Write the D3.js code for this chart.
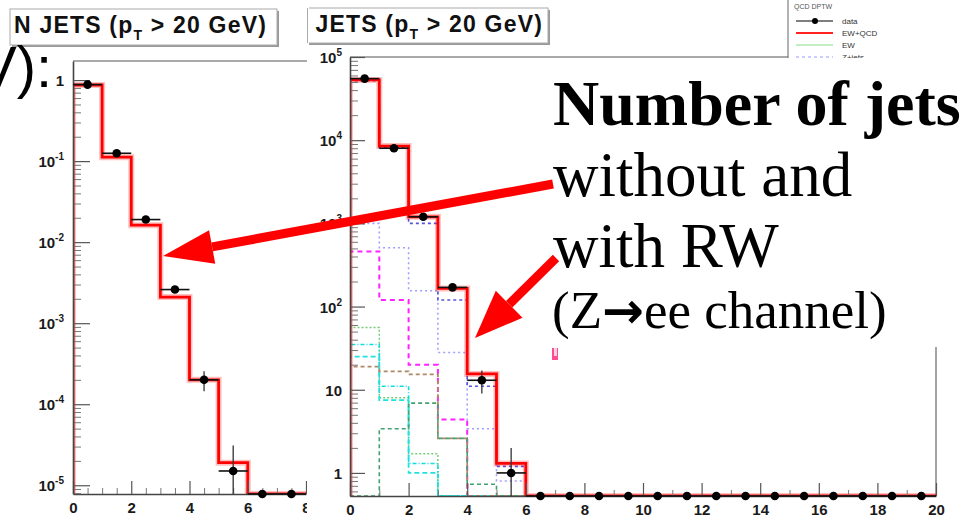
<!DOCTYPE html>
<html>
<head>
<meta charset="utf-8">
<script src="https://cdn.jsdelivr.net/npm/d3@7"></script>
<style>
  body { margin: 0; background: #fff; }
  svg { display: block; }
</style>
</head>
<body>
<div id="chart"></div>
<script>
// ---- values ----
// left: normalised N jets, one bin per jet multiplicity
var leftMC   = [0.87, 0.112, 0.0162, 0.0021, 0.0002, 0.000019, 0, 0];
var leftData = [0.88, 0.125, 0.019, 0.0026, 0.0002, 0.000015, 0, 0];
var leftErr  = [0, 0, 0, 0.0001, 0.000055, 0.000016, 0, 0];
var leftXTicks = [0, 2, 4, 6, 8];
var leftYTicks = [1, 1e-1, 1e-2, 1e-3, 1e-4, 1e-5];
var leftYLabels = [["1", ""], ["10", "-1"], ["10", "-2"], ["10", "-3"], ["10", "-4"], ["10", "-5"]];

// right: events per jet multiplicity (0..19)
var rightMC   = [53000, 8500, 1200, 165, 15.5, 1.3, 0, 0, 0, 0, 0, 0, 0, 0, 0, 0, 0, 0, 0, 0];
var rightData = [55000, 8000, 1200, 170, 13, 1.0, 0, 0, 0, 0, 0, 0, 0, 0, 0, 0, 0, 0, 0, 0];
var rightErr  = [230, 90, 35, 13, 4, 1.0, 0, 0, 0, 0, 0, 0, 0, 0, 0, 0, 0, 0, 0, 0];
var rightXTicks = [0, 2, 4, 6, 8, 10, 12, 14, 16, 18, 20];
var rightYTicks = [1e5, 1e4, 1e3, 1e2, 10, 1];
var rightYLabels = [["10", "5"], ["10", "4"], ["10", "3"], ["10", "2"], ["10", ""], ["1", ""]];

// background components stacked under the total (first six bins)
var compZjets  = [52000, 8200, 1000, 120, 11, 1.2];
var compLav    = [1000, 510, 155, 28, 3.4, 0.8];
var compMag    = [460, 120, 20, 4.4, 0, 0];
var compLGreen = [56, 8, 1.7, 0, 0, 0];
var compCyanA  = [35, 11, 1.3, 0, 0, 0];
var compCyanB  = [25, 7.5, 1.0, 0, 0, 0];
var compBrown  = [19, 16.6, 15.3, 2.6, 0, 0];
var compDGreen = [0, 3.4, 6.9, 2.6, 0.73, 0];

var legendLabels = ["data", "EW+QCD", "EW", "Z+jets"];

var width = 961, height = 527;

var svg = d3.select("#chart").append("svg")
    .attr("width", width).attr("height", height)
    .style("font-family", "'Liberation Sans', Arial, sans-serif");

svg.append("rect").attr("width", width).attr("height", height).attr("fill", "#fff");

var defs = svg.append("defs");
defs.append("clipPath").attr("id", "clipLeft")
    .append("rect").attr("x", 0).attr("y", 0).attr("width", 307).attr("height", height);
defs.append("clipPath").attr("id", "clipLeftPlot")
    .append("rect").attr("x", 73).attr("y", 61).attr("width", 234).attr("height", 434);
defs.append("clipPath").attr("id", "clipRightPlot")
    .append("rect").attr("x", 350).attr("y", 57).attr("width", 587).attr("height", 440);
defs.append("clipPath").attr("id", "clipRightTitle")
    .append("rect").attr("x", 309).attr("y", 0).attr("width", 260).attr("height", 60);

function stepPath(vals, x, y, yb) {
    var p = d3.path();
    p.moveTo(x(0), yb);
    vals.forEach(function (v, i) {
        var yy = v > 0 ? Math.min(y(v), yb) : yb;
        p.lineTo(x(i), yy);
        p.lineTo(x(i + 1), yy);
    });
    p.lineTo(x(vals.length), yb);
    return p.toString();
}

function drawData(g, vals, errs, x, y, yb) {
    vals.forEach(function (v, i) {
        var cy = v > 0 ? Math.min(y(v), yb) : yb;
        var cx = x(i + 0.5);
        g.append("line").attr("x1", x(i)).attr("x2", x(i + 1)).attr("y1", cy).attr("y2", cy)
            .attr("stroke", "#111").attr("stroke-width", 1.6);
        if (errs[i] > 0) {
            var lo = v - errs[i] > 0 ? Math.min(y(v - errs[i]), yb) : yb;
            g.append("line").attr("x1", cx).attr("x2", cx)
                .attr("y1", y(v + errs[i])).attr("y2", lo)
                .attr("stroke", "#333").attr("stroke-width", 1.3);
        }
        g.append("circle").attr("cx", cx).attr("cy", cy).attr("r", 4.3).attr("fill", "#000");
    });
}

function drawYAxis(g, y, x0, majors, labels, bigLen, smallLen, labelX) {
    var minors = y.ticks().filter(function (t) {
        return majors.indexOf(t) < 0;
    });
    g.append("g").attr("transform", "translate(" + x0 + ",0)")
        .call(d3.axisRight(y).tickValues(minors).tickSize(smallLen).tickSizeOuter(0).tickFormat(""))
        .call(function (a) { a.select(".domain").remove(); a.selectAll("line").attr("stroke", "#777"); });
    g.append("g").attr("transform", "translate(" + x0 + ",0)")
        .call(d3.axisRight(y).tickValues(majors).tickSize(bigLen).tickSizeOuter(0).tickFormat(""))
        .call(function (a) {
            a.select(".domain").attr("stroke", "#444").attr("stroke-width", 1.6);
            a.selectAll("line").attr("stroke", "#555").attr("stroke-width", 1.2);
        });
    majors.forEach(function (t, i) {
        var txt = g.append("text").attr("x", labelX).attr("y", y(t) + 6)
            .attr("text-anchor", "end").attr("font-weight", "bold")
            .attr("font-size", 15).attr("fill", "#1a1a1a");
        txt.append("tspan").text(labels[i][0]);
        if (labels[i][1]) {
            txt.append("tspan").attr("dy", -7).attr("font-size", 10).text(labels[i][1]);
        }
    });
}

function drawXAxis(g, x, yb, majors, minors) {
    g.append("g").attr("transform", "translate(0," + yb + ")")
        .call(d3.axisTop(x).tickValues(minors).tickSize(6).tickSizeOuter(0).tickFormat(""))
        .call(function (a) { a.select(".domain").remove(); a.selectAll("line").attr("stroke", "#777"); });
    g.append("g").attr("transform", "translate(0," + yb + ")")
        .call(d3.axisTop(x).tickValues(majors).tickSize(13).tickSizeOuter(0).tickFormat(""))
        .call(function (a) {
            a.select(".domain").attr("stroke", "#444").attr("stroke-width", 1.6);
            a.selectAll("line").attr("stroke", "#555").attr("stroke-width", 1.2);
        });
    g.append("g").attr("transform", "translate(0," + yb + ")")
        .call(d3.axisBottom(x).tickValues(majors).tickSize(0).tickPadding(8).tickFormat(d3.format("d")))
        .call(function (a) {
            a.select(".domain").remove();
            a.selectAll("text").attr("font-family", "'Liberation Sans', Arial, sans-serif")
                .attr("font-weight", "bold").attr("font-size", 15).attr("fill", "#1a1a1a");
        });
}

function titleBox(g, bx, by, bw, bh, tx) {
    g.append("rect").attr("x", bx + 2).attr("y", by + 2).attr("width", bw).attr("height", bh).attr("fill", "#999");
    g.append("rect").attr("x", bx).attr("y", by).attr("width", bw).attr("height", bh)
        .attr("fill", "#fff").attr("stroke", "#aaa").attr("stroke-width", 1);
    var t = g.append("text").attr("x", tx).attr("y", by + 24)
        .attr("font-weight", "bold").attr("font-size", 23).attr("letter-spacing", 1.2)
        .attr("fill", "#111");
    t.append("tspan").text("N JETS (p");
    t.append("tspan").attr("dy", 7).attr("font-size", 14).text("T");
    t.append("tspan").attr("dy", -7).text(" > 20 GeV)");
    return t;
}

// ================= left panel =================
var L = svg.append("g").attr("clip-path", "url(#clipLeft)");
var xL = d3.scaleLinear().domain([0, 8]).range([73, 306]);
var yL = d3.scaleLog().domain([7.8e-6, 1.72]).range([494, 61]);
var ybL = 494;

titleBox(L, 10, 9, 267, 36, 14);

L.append("line").attr("x1", 73).attr("x2", 307).attr("y1", 61).attr("y2", 61)
    .attr("stroke", "#555").attr("stroke-width", 1.2);

var Lp = L.append("g").attr("clip-path", "url(#clipLeftPlot)");
Lp.append("path").attr("d", stepPath(leftMC, xL, yL, ybL))
    .attr("fill", "none").attr("stroke", "rgba(255,0,0,0.25)").attr("stroke-width", 6);
Lp.append("path").attr("d", stepPath(leftMC, xL, yL, ybL))
    .attr("fill", "none").attr("stroke", "#ff0000").attr("stroke-width", 2.8);

drawXAxis(L, xL, ybL, leftXTicks, [0.5, 1, 1.5, 2.5, 3, 3.5, 4.5, 5, 5.5, 6.5, 7, 7.5]);
drawYAxis(L, yL, 73, leftYTicks, leftYLabels, 17, 8, 64);
drawData(L, leftData, leftErr, xL, yL, ybL);

// ================= right panel =================
var R = svg.append("g");
var xR = d3.scaleLinear().domain([0, 20]).range([350, 936]);
var yR = d3.scaleLog().domain([0.528, 1e5]).range([496, 57]);
var ybR = 496;

var Rt = R.append("g").attr("clip-path", "url(#clipRightTitle)");
titleBox(Rt, 283, 8, 265, 35, 290);
R.append("line").attr("x1", 307.5).attr("x2", 307.5).attr("y1", 8).attr("y2", 43)
    .attr("stroke", "#aaa");

R.append("line").attr("x1", 350).attr("x2", 788).attr("y1", 57).attr("y2", 57)
    .attr("stroke", "#555").attr("stroke-width", 1.2);
R.append("line").attr("x1", 936).attr("x2", 936).attr("y1", 57).attr("y2", 496)
    .attr("stroke", "#666").attr("stroke-width", 1.2);

var Rp = R.append("g").attr("clip-path", "url(#clipRightPlot)");
var comps = [
    { v: compLav,    c: "#a0a0ff", d: "2,3", w: 1.6 },
    { v: compMag,    c: "#ff22ff", d: "5,4", w: 2 },
    { v: compLGreen, c: "#77cc77", d: "2,2", w: 1.5 },
    { v: compCyanA,  c: "#11dddd", d: "4,2,1,2", w: 1.6 },
    { v: compCyanB,  c: "#22e0e0", d: "5,3", w: 1.8 },
    { v: compBrown,  c: "#b08866", d: "4,3", w: 1.8 },
    { v: compDGreen, c: "#44a070", d: "4,3", w: 1.6 },
    { v: compZjets,  c: "#5555dd", d: "3,3", w: 1.6 }
];
comps.forEach(function (s) {
    Rp.append("path").attr("d", stepPath(s.v, xR, yR, ybR))
        .attr("fill", "none").attr("stroke", s.c).attr("stroke-width", s.w)
        .attr("stroke-dasharray", s.d);
});
Rp.append("path").attr("d", stepPath(rightMC, xR, yR, ybR))
    .attr("fill", "none").attr("stroke", "rgba(255,0,0,0.25)").attr("stroke-width", 6);
Rp.append("path").attr("d", stepPath(rightMC, xR, yR, ybR))
    .attr("fill", "none").attr("stroke", "#ff0000").attr("stroke-width", 2.8);

drawXAxis(R, xR, ybR, rightXTicks, [1, 3, 5, 7, 9, 11, 13, 15, 17, 19]);
drawYAxis(R, yR, 350, rightYTicks, rightYLabels, 15, 8, 342);
drawData(R, rightData, rightErr, xR, yR, ybR);

// legend (top right, mostly hidden)
var lg = svg.append("g");
lg.append("rect").attr("x", 788).attr("y", -2).attr("width", 180).attr("height", 62)
    .attr("fill", "#fff").attr("stroke", "#666").attr("stroke-width", 1);
lg.append("text").attr("x", 794).attr("y", 9).attr("font-size", 7).attr("fill", "#555").text("QCD DPTW");
var lgColors = ["#000", "#ff2222", "#88dd88", "#9999ff"];
var lgDash = [null, null, null, "3,3"];
legendLabels.forEach(function (name, i) {
    var yy = 21 + i * 12;
    lg.append("line").attr("x1", 796).attr("x2", 833).attr("y1", yy).attr("y2", yy)
        .attr("stroke", lgColors[i]).attr("stroke-width", i == 1 ? 2 : 1.2)
        .attr("stroke-dasharray", lgDash[i]);
    if (i == 0) lg.append("circle").attr("cx", 815).attr("cy", yy).attr("r", 3).attr("fill", "#000");
    lg.append("text").attr("x", 842).attr("y", yy + 3).attr("font-size", 8).attr("fill", "#333").text(name);
});

// ================= overlay annotation =================
svg.append("rect").attr("x", 548).attr("y", 58).attr("width", 413).attr("height", 289).attr("fill", "#fff");
svg.append("rect").attr("x", 552).attr("y", 348).attr("width", 6).attr("height", 12).attr("fill", "#ff4d94");
svg.append("rect").attr("x", 554).attr("y", 348).attr("width", 3).attr("height", 8).attr("fill", "#ffd0e0");

svg.append("text").attr("x", -22).attr("y", 87)
    .attr("font-size", 58).attr("fill", "#000").text("V):");

var serif = "'Liberation Serif', 'Times New Roman', serif";
svg.append("text").attr("x", 553).attr("y", 125).attr("font-family", serif)
    .attr("font-weight", "bold").attr("font-size", 64).text("Number of jets");
svg.append("text").attr("x", 553).attr("y", 196).attr("font-family", serif)
    .attr("font-size", 63).text("without and");
svg.append("text").attr("x", 553).attr("y", 267).attr("font-family", serif)
    .attr("font-size", 63).text("with RW");
var zt = svg.append("text").attr("x", 552).attr("y", 328).attr("font-family", serif)
    .attr("font-size", 53);
zt.append("tspan").text("(Z");
zt.append("tspan").attr("font-family", "'DejaVu Sans', sans-serif").attr("font-weight", "bold")
    .attr("font-size", 50).text("\u2192");
zt.append("tspan").text("ee channel)");

function arrow(x1, y1, x2, y2, headLen, headHalf, lw) {
    var dx = x1 - x2, dy = y1 - y2, len = Math.sqrt(dx * dx + dy * dy);
    var ux = dx / len, uy = dy / len;
    var bx = x2 + ux * headLen, by = y2 + uy * headLen;
    svg.append("line").attr("x1", x1).attr("y1", y1).attr("x2", bx).attr("y2", by)
        .attr("stroke", "#ff0000").attr("stroke-width", lw);
    svg.append("polygon")
        .attr("points", [[x2, y2], [bx - uy * headHalf, by + ux * headHalf], [bx + uy * headHalf, by - ux * headHalf]].join(" "))
        .attr("fill", "#ff0000");
}
arrow(553, 184, 163, 256, 50, 17, 9);
arrow(556, 258, 475, 338, 48, 19, 9);
</script>
</body>
</html>
